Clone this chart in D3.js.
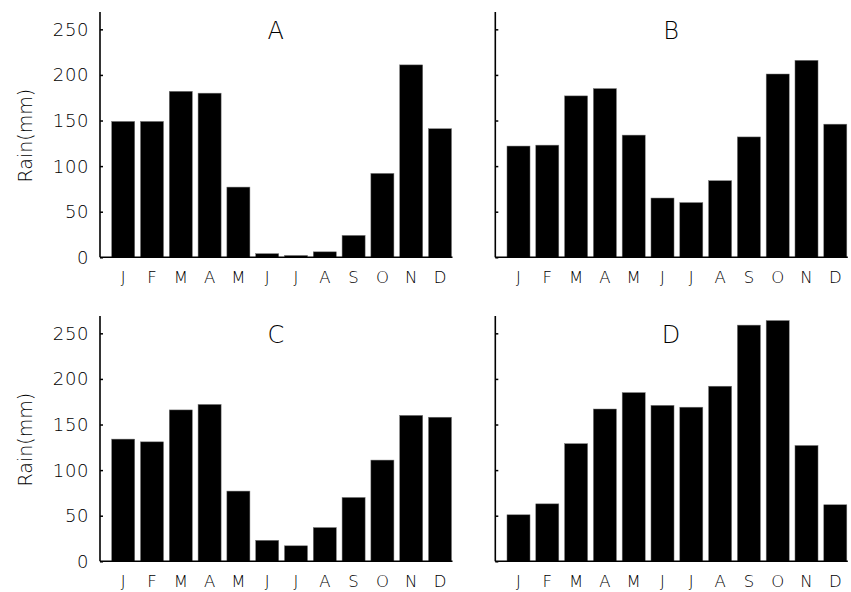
<!DOCTYPE html>
<html>
<head>
<meta charset="utf-8">
<script src="https://cdn.jsdelivr.net/npm/d3@7"></script>
<style>
  body { margin: 0; background: #fff; }
  svg text { font-family: "DejaVu Sans ExtraLight", "DejaVu Sans Light", "DejaVu Sans", sans-serif; fill: #000; }
</style>
</head>
<body>
<script>
// monthly rain, mm, one array per station
var months = ["J", "F", "M", "A", "M", "J", "J", "A", "S", "O", "N", "D"];
var panelNames = ["A", "B", "C", "D"];
var rainA = [149, 149, 182, 180, 77, 4, 2, 6, 24, 92, 211, 141];
var rainB = [122, 123, 177, 185, 134, 65, 60, 84, 132, 201, 216, 146];
var rainC = [134, 131, 166, 172, 77, 23, 17, 37, 70, 111, 160, 158];
var rainD = [51, 63, 129, 167, 185, 171, 169, 192, 259, 264, 127, 62];
var yTicks = [0, 50, 100, 150, 200, 250];

var series = [rainA, rainB, rainC, rainD];

var width = 851,
    height = 592;

var svg = d3.select("body").append("svg")
    .attr("width", width)
    .attr("height", height);

// panel origins: left axis x, top of axis y
var origins = [[100, 12], [495.3, 12], [100, 316], [495.3, 316]];
var plotH = 245.3;

series.forEach(function (vals, i) {
    var ox = origins[i][0], oy = origins[i][1];
    var g = svg.append("g");

    var x = d3.scaleBand()
        .domain(d3.range(12))
        .range([ox + 8.8, ox + 354.4])
        .paddingInner(0.2)
        .paddingOuter(0.1);

    var y = d3.scaleLinear()
        .domain([0, 269])
        .range([oy + plotH, oy]);

    // bars
    g.selectAll("rect.bar")
        .data(vals)
        .enter().append("rect")
        .attr("class", "bar")
        .attr("x", function (d, j) { return x(j); })
        .attr("width", x.bandwidth())
        .attr("y", function (d) { return y(d); })
        .attr("height", function (d) { return y(0) - y(d); })
        .attr("fill", "#000")
        .attr("stroke", "#777")
        .attr("stroke-width", 0.5);

    // y axis, ticks pointing in
    var yAxis = d3.axisRight(y)
        .tickValues(yTicks)
        .tickSize(3)
        .tickFormat("");
    var ya = g.append("g")
        .attr("transform", "translate(" + ox + ",0)")
        .call(yAxis);
    ya.select(".domain").remove();
    ya.selectAll(".tick line").attr("stroke", "#000").attr("stroke-width", 1.5);

    g.append("line")
        .attr("x1", ox).attr("x2", ox)
        .attr("y1", oy).attr("y2", y(0))
        .attr("stroke", "#000").attr("stroke-width", 1.6);

    g.append("line")
        .attr("x1", ox).attr("x2", x(11) + x.bandwidth() + 1)
        .attr("y1", y(0)).attr("y2", y(0))
        .attr("stroke", "#000").attr("stroke-width", 1.6);

    // tick labels only on the left column
    if (i % 2 == 0) {
        g.selectAll("text.ylab")
            .data(yTicks)
            .enter().append("text")
            .attr("class", "ylab")
            .attr("x", ox - 11)
            .attr("y", function (d) { return y(d); })
            .attr("dy", "0.36em")
            .attr("text-anchor", "end")
            .style("font-size", "18px")
            .style("letter-spacing", "0.6px")
            .text(function (d) { return d; });

        g.append("text")
            .attr("transform", "translate(" + (ox - 75) + "," + (oy + plotH / 2 + 1) + ") rotate(-90)")
            .attr("dy", "0.36em")
            .attr("text-anchor", "middle")
            .style("font-size", "19px")
            .text("Rain(mm)");
    }

    // month labels
    g.selectAll("text.month")
        .data(months)
        .enter().append("text")
        .attr("class", "month")
        .attr("x", function (d, j) { return x(j) + x.bandwidth() / 2; })
        .attr("y", y(0) + 25.7)
        .attr("text-anchor", "middle")
        .style("font-size", "16.5px")
        .text(function (d) { return d; });

    // panel letter
    g.append("text")
        .attr("x", (ox + x(11) + x.bandwidth()) / 2)
        .attr("y", oy + 27)
        .attr("text-anchor", "middle")
        .style("font-size", "24px")
        .text(panelNames[i]);
});
</script>
</body>
</html>
